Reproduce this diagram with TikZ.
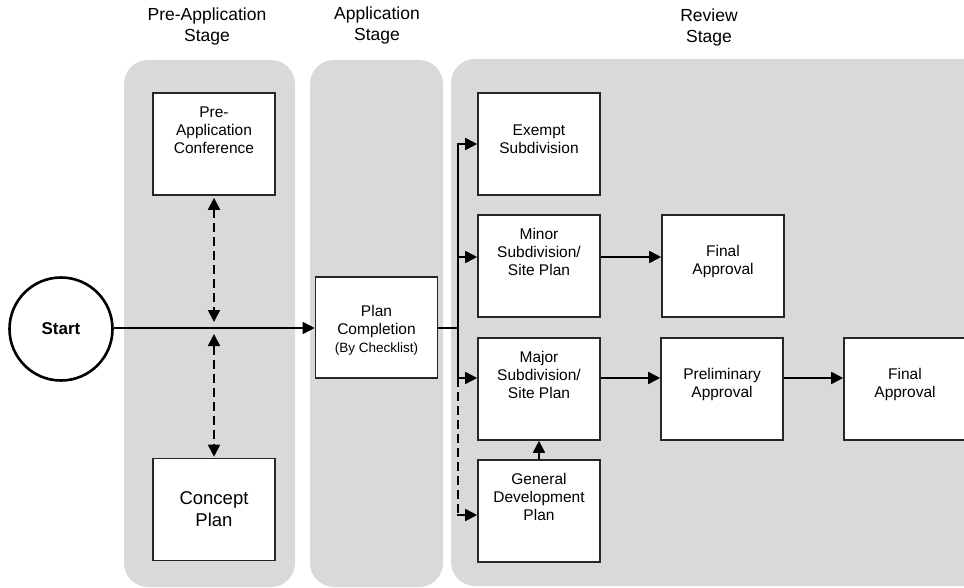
\documentclass[tikz,border=0pt]{standalone}
\usepackage{fontspec}
\setmainfont{Liberation Sans}
\usetikzlibrary{arrows.meta,calc}
\begin{document}
\begin{tikzpicture}[x=1pt,y=-1pt,
  panel/.style={fill=gray!30, draw=none, rounded corners=24pt},
  box/.style={draw=black!85, fill=white, line width=1.6pt, minimum width=122pt, minimum height=102pt, inner sep=0pt},
  lbl/.style={align=center, font=\fontsize{15.5}{18}\selectfont, inner sep=0pt},
  title/.style={align=center, font=\fontsize{17.5}{21}\selectfont},
  conn/.style={line width=1.7pt},
  tip/.style={Triangle[length=12pt,width=12pt]},
  arr/.style={conn, -{Triangle[length=12pt,width=12pt]}},
  darr/.style={conn, dash pattern=on 9pt off 5pt, {Triangle[length=12pt,width=12pt]}-{Triangle[length=12pt,width=12pt]}},
  dline/.style={conn, dash pattern=on 9pt off 5pt}
]
\useasboundingbox (0,0) rectangle (964,588);
% panels
\fill[panel] (124,60) rectangle (295,587);
\fill[panel] (310,60) rectangle (443,587);
\fill[panel] (451,59) rectangle (988,586);
% titles
\node[title] (t1) at (207,26.5) {Pre-Application\\Stage};
\node[title] (t2) at (377,25) {Application\\Stage};
\node[title] (t3) at (709,27) {Review\\Stage};
% start
\node[draw=black, fill=white, circle, line width=2.6pt, minimum size=103pt, inner sep=0pt, font=\fontsize{17}{20}\selectfont\bfseries] (start) at (61,329) {Start};
% boxes
\node[box, label={[lbl, yshift=14pt]center:Pre-\\Application\\Conference}] (pac) at (214,144) {};
\node[box, label={[lbl, font=\fontsize{18.5}{22}\selectfont]center:Concept\\Plan}] (concept) at (214,509.5) {};
\node[box, minimum height=101pt, label={[lbl, yshift=-3pt]center:Plan\\Completion\\{\fontsize{13.5}{17}\selectfont (By Checklist)}}] (plan) at (376.5,327.5) {};
\node[box, label={[lbl, yshift=5pt]center:Exempt\\Subdivision}] (exempt) at (539,144) {};
\node[box, label={[lbl, yshift=14pt]center:Minor\\Subdivision/\\Site Plan}] (minor) at (539,266) {};
\node[box, label={[lbl, yshift=5pt]center:Final\\Approval}] (fa1) at (723,266) {};
\node[box, label={[lbl, yshift=14pt]center:Major\\Subdivision/\\Site Plan}] (major) at (539,389) {};
\node[box, label={[lbl, yshift=5pt]center:Preliminary\\Approval}] (prelim) at (722,389) {};
\node[box, label={[lbl, yshift=5pt]center:Final\\Approval}] (fa2) at (905,389) {};
\node[box, label={[lbl, yshift=14pt]center:General\\Development\\Plan}] (gdp) at (539,511) {};
% main flow
\coordinate (mid) at (pac.south |- 0,328);
\draw[arr] (start.east |- 0,328) -- (plan.west |- 0,328);
\draw[darr] ([yshift=-2pt]pac.south) -- ([yshift=6pt]mid);
\draw[darr] ([yshift=-6pt]mid) -- ([yshift=1pt]concept.north);
% branch
\coordinate (bx) at (458,328);
\draw[conn] (plan.east |- bx) -- (bx);
\draw[conn] ([yshift=0.85pt]bx |- exempt.west) -- ([yshift=11pt]bx |- major.west);
\draw[arr] (bx |- exempt.west) -- (exempt.west);
\draw[arr] ([yshift=9pt]bx |- minor.west) -- ([yshift=9pt]minor.west);
\draw[arr] ([yshift=11pt]bx |- major.west) -- ([yshift=11pt]major.west);
\draw[dline] ([yshift=11pt]bx |- major.west) -- ([yshift=-4pt]bx |- gdp.west);
\draw[arr] ([yshift=-4pt,xshift=-0.85pt]bx |- gdp.west) -- ([yshift=-4pt]gdp.west);
\draw[arr] ([yshift=9pt]minor.east) -- ([yshift=9pt]fa1.west);
\draw[arr] ([yshift=11pt]major.east) -- ([yshift=11pt]prelim.west);
\draw[arr] ([yshift=11pt]prelim.east) -- ([yshift=11pt]fa2.west);
\draw[arr] (gdp.north) -- (major.south);
\end{tikzpicture}
\end{document}
